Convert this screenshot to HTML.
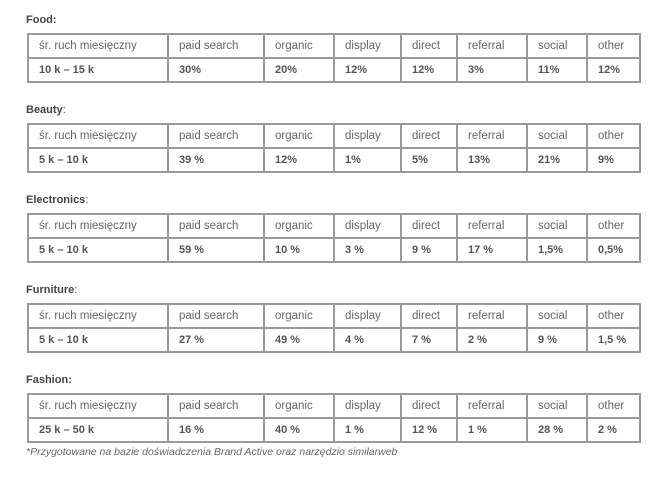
<!DOCTYPE html>
<html><head><meta charset="utf-8"><style>
body{margin:0;width:665px;height:481px;background:#fff;font-family:"Liberation Sans",sans-serif;color:#555;position:relative;overflow:hidden}
.l{position:absolute;left:26px;font-size:11px;font-weight:bold;color:#444}
table{position:absolute;left:27px;border-collapse:collapse;table-layout:fixed;width:612px}
td{border:2px solid #9a9a9a;height:22px;padding:0 0 0 10px;font-size:11.5px;color:#666;white-space:nowrap;overflow:hidden}
tr.d td{font-weight:bold;font-size:11px;color:#555}
.f{position:absolute;left:26px;top:446px;font-size:10.5px;font-style:italic;color:#666}
</style></head><body>
<div class="l" style="top:14px">Food:</div>
<table style="top:33px"><colgroup><col style="width:140px"><col style="width:96px"><col style="width:70px"><col style="width:67px"><col style="width:56px"><col style="width:70px"><col style="width:60px"><col style="width:53px"></colgroup>
<tr><td>śr. ruch miesięczny</td><td>paid search</td><td>organic</td><td>display</td><td>direct</td><td>referral</td><td>social</td><td>other</td></tr>
<tr class="d"><td>10 k – 15 k</td><td>30%</td><td>20%</td><td>12%</td><td>12%</td><td>3%</td><td>11%</td><td>12%</td></tr></table>

<div class="l" style="top:104px">Beauty<span style="font-weight:normal">:</span></div>
<table style="top:123px"><colgroup><col style="width:140px"><col style="width:96px"><col style="width:70px"><col style="width:67px"><col style="width:56px"><col style="width:70px"><col style="width:60px"><col style="width:53px"></colgroup>
<tr><td>śr. ruch miesięczny</td><td>paid search</td><td>organic</td><td>display</td><td>direct</td><td>referral</td><td>social</td><td>other</td></tr>
<tr class="d"><td>5 k – 10 k</td><td>39 %</td><td>12%</td><td>1%</td><td>5%</td><td>13%</td><td>21%</td><td>9%</td></tr></table>

<div class="l" style="top:194px">Electronics<span style="font-weight:normal">:</span></div>
<table style="top:213px"><colgroup><col style="width:140px"><col style="width:96px"><col style="width:70px"><col style="width:67px"><col style="width:56px"><col style="width:70px"><col style="width:60px"><col style="width:53px"></colgroup>
<tr><td>śr. ruch miesięczny</td><td>paid search</td><td>organic</td><td>display</td><td>direct</td><td>referral</td><td>social</td><td>other</td></tr>
<tr class="d"><td>5 k – 10 k</td><td>59 %</td><td>10 %</td><td>3 %</td><td>9 %</td><td>17 %</td><td>1,5%</td><td>0,5%</td></tr></table>

<div class="l" style="top:284px">Furniture<span style="font-weight:normal">:</span></div>
<table style="top:303px"><colgroup><col style="width:140px"><col style="width:96px"><col style="width:70px"><col style="width:67px"><col style="width:56px"><col style="width:70px"><col style="width:60px"><col style="width:53px"></colgroup>
<tr><td>śr. ruch miesięczny</td><td>paid search</td><td>organic</td><td>display</td><td>direct</td><td>referral</td><td>social</td><td>other</td></tr>
<tr class="d"><td>5 k – 10 k</td><td>27 %</td><td>49 %</td><td>4 %</td><td>7 %</td><td>2 %</td><td>9 %</td><td>1,5 %</td></tr></table>

<div class="l" style="top:374px">Fashion:</div>
<table style="top:393px"><colgroup><col style="width:140px"><col style="width:96px"><col style="width:70px"><col style="width:67px"><col style="width:56px"><col style="width:70px"><col style="width:60px"><col style="width:53px"></colgroup>
<tr><td>śr. ruch miesięczny</td><td>paid search</td><td>organic</td><td>display</td><td>direct</td><td>referral</td><td>social</td><td>other</td></tr>
<tr class="d"><td>25 k – 50 k</td><td>16 %</td><td>40 %</td><td>1 %</td><td>12 %</td><td>1 %</td><td>28 %</td><td>2 %</td></tr></table>

<div class="f">*Przygotowane na bazie doświadczenia Brand Active oraz narzędzio similarweb</div>
</body></html>
